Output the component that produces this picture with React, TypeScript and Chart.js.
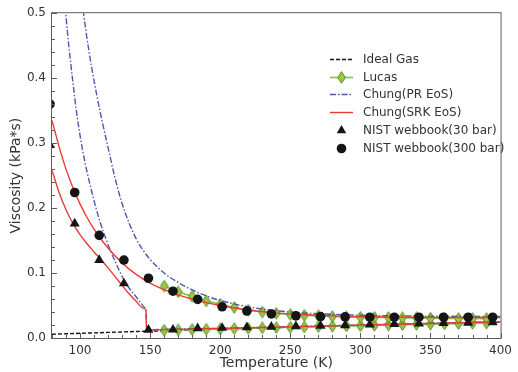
import React, { useEffect, useRef } from 'react';
import { Chart, registerables } from 'chart.js';

Chart.register(...registerables);

// ---- tick labels ----
const xTicks = [100, 150, 200, 250, 300, 350, 400];
const yTicks = [0, 0.1, 0.2, 0.3, 0.4, 0.5];

// ---- legend labels ----
const legendLabels = [
  'Ideal Gas',
  'Lucas',
  'Chung(PR EoS)',
  'Chung(SRK EoS)',
  'NIST webbook(30 bar)',
  'NIST webbook(300 bar)',
];

// ---- data ----
const idealT = [80, 100, 120, 140, 160, 200, 250, 300, 350, 400];
const idealV = [0.0058, 0.0072, 0.0086, 0.0100, 0.0112, 0.0137, 0.0166, 0.0194, 0.0220, 0.0245];

const lucasT = [160, 170, 180, 190, 200, 210, 220, 230, 240, 250, 260, 270, 280, 290, 300, 310, 320, 330, 340, 350, 360, 370, 380, 390];
const lucasHigh = [0.080, 0.071, 0.064, 0.057, 0.052, 0.047, 0.043, 0.040, 0.038, 0.036, 0.035, 0.034, 0.033, 0.0325, 0.032, 0.0318, 0.0315, 0.031, 0.031, 0.0305, 0.030, 0.030, 0.030, 0.0298];
const lucasLow = [0.0120, 0.0125, 0.0130, 0.0135, 0.0140, 0.0145, 0.0150, 0.0155, 0.0160, 0.0165, 0.0170, 0.0175, 0.0180, 0.0185, 0.0190, 0.0195, 0.0200, 0.0205, 0.0210, 0.0214, 0.0218, 0.0222, 0.0226, 0.0230];

const prLowT = [88, 89.8, 91.5, 93.1, 95, 97.3, 100, 103.2, 106.7, 111.4, 115, 120.7, 125, 131.2, 135, 139.4, 143, 146.5, 147, 147.5, 150, 200, 250, 300, 350, 400];
const prLow = [0.545, 0.50, 0.46, 0.428, 0.392, 0.351, 0.312, 0.274, 0.240, 0.200, 0.174, 0.140, 0.118, 0.090, 0.077, 0.065, 0.055, 0.046, 0.044, 0.0122, 0.0125, 0.015, 0.0174, 0.020, 0.0226, 0.0252];

const prHighT = [100.2, 102.5, 105, 108, 112, 116, 120, 125, 130, 135, 140, 145, 150, 160, 170, 180, 190, 200, 220, 240, 260, 280, 300, 350, 400];
const prHigh = [0.54, 0.50, 0.4606, 0.4201, 0.3731, 0.3315, 0.2930, 0.2460, 0.2070, 0.1770, 0.1530, 0.1350, 0.1210, 0.1000, 0.0855, 0.0740, 0.0648, 0.0578, 0.0480, 0.0420, 0.0385, 0.0364, 0.0351, 0.0336, 0.0331];

const srkHighT = [80, 85, 90, 95, 100, 105, 110, 115, 120, 130, 140, 150, 160, 170, 180, 190, 200, 220, 240, 260, 280, 300, 350, 400];
const srkHigh = [0.335, 0.295, 0.260, 0.231, 0.2065, 0.1855, 0.1675, 0.152, 0.1385, 0.1155, 0.098, 0.0845, 0.0745, 0.0665, 0.060, 0.0545, 0.050, 0.043, 0.0386, 0.0358, 0.034, 0.0328, 0.0318, 0.0316];

const srkLowT = [80, 85, 90, 95, 100, 105, 110, 115, 120, 125, 130, 135, 140, 145, 147, 147.5, 150, 200, 250, 300, 350, 400];
const srkLow = [0.258, 0.2245, 0.1975, 0.176, 0.159, 0.145, 0.1325, 0.1205, 0.108, 0.0945, 0.081, 0.068, 0.0565, 0.046, 0.042, 0.012, 0.0123, 0.0148, 0.0172, 0.0198, 0.0224, 0.0250];

const nistT = [78.6, 96.2, 113.7, 131.3, 148.8, 166.3, 183.9, 201.4, 219.0, 236.5, 254.0, 271.6, 289.1, 306.7, 324.2, 341.8, 359.3, 376.9, 394.4];
const nist30 = [0.297, 0.176, 0.120, 0.084, 0.0125, 0.0128, 0.0150, 0.0155, 0.0165, 0.0172, 0.0180, 0.0188, 0.0196, 0.0205, 0.0213, 0.0220, 0.0228, 0.0235, 0.0242];
const nist300 = [0.360, 0.224, 0.158, 0.120, 0.092, 0.072, 0.0595, 0.048, 0.0415, 0.037, 0.034, 0.033, 0.0325, 0.032, 0.032, 0.032, 0.032, 0.032, 0.032];

// ---- styles ----
const FONT = "'DejaVu Sans', 'Liberation Sans', sans-serif";
const TEXT = '#333333';
const SPINE = '#5c5c5c';
const BLACK = '#151515';
const GREEN_LINE = '#86c540';
const GREEN_FILL = '#9cc83c';
const GREEN_EDGE = '#4f8f2a';
const BLUE = '#4a58b0';
const RED = '#ee3a36';
const LW = 1.4;
const DASH_DOT = [6, 2, 1.5, 2];
const DASH = [4, 2];

const pts = (xs: number[], ys: number[]) => xs.map((x, i) => ({ x, y: ys[i] }));

function makeDiamond(): HTMLCanvasElement {
  const c = document.createElement('canvas');
  const w = 9, h = 13;
  c.width = w; c.height = h;
  const g = c.getContext('2d')!;
  g.beginPath();
  g.moveTo(w / 2, 0.7);
  g.lineTo(w - 0.7, h / 2);
  g.lineTo(w / 2, h - 0.7);
  g.lineTo(0.7, h / 2);
  g.closePath();
  g.fillStyle = GREEN_FILL;
  g.fill();
  g.lineWidth = 1;
  g.strokeStyle = GREEN_EDGE;
  g.stroke();
  return c;
}

export default function App() {
  const ref = useRef<HTMLCanvasElement | null>(null);

  useEffect(() => {
    if (!ref.current) return;
    const diamond = makeDiamond();

    const framePlugin = {
      id: 'framePlugin',
      afterDatasetsDraw(chart: any) {
        const { ctx, chartArea: a, scales } = chart;
        const xs = scales.x, ys = scales.y;
        ctx.save();
        ctx.strokeStyle = SPINE;
        ctx.lineWidth = 1;
        for (let v = 80; v <= 400; v += 10) {
          const major = v % 50 === 0;
          const px = Math.round(xs.getPixelForValue(v)) + 0.5;
          ctx.beginPath();
          ctx.moveTo(px, a.bottom);
          ctx.lineTo(px, a.bottom - (major ? 5 : 3));
          ctx.stroke();
        }
        for (let k = 0; k <= 25; k++) {
          const v = k * 0.02;
          const major = k % 5 === 0;
          const py = Math.round(ys.getPixelForValue(v)) + 0.5;
          ctx.beginPath();
          ctx.moveTo(a.left, py);
          ctx.lineTo(a.left + (major ? 5 : 3), py);
          ctx.stroke();
        }
        ctx.strokeRect(a.left - 0.5, a.top - 0.5, a.right - a.left + 1, a.bottom - a.top + 1);
        ctx.restore();
      },
      afterDraw(chart: any) {
        const { ctx } = chart;
        ctx.save();
        const x0 = 330, x1 = 353, xm = 341.5, xt = 363;
        const y0 = 59, dy = 17.7;
        ctx.font = `12px ${FONT}`;
        ctx.fillStyle = TEXT;
        ctx.textBaseline = 'middle';
        ctx.textAlign = 'left';
        legendLabels.forEach((lab, i) => {
          const y = Math.round(y0 + i * dy) + 0.5;
          ctx.save();
          if (i === 0) {
            ctx.strokeStyle = BLACK; ctx.lineWidth = LW; ctx.setLineDash(DASH);
            ctx.beginPath(); ctx.moveTo(x0, y); ctx.lineTo(x1, y); ctx.stroke();
          } else if (i === 1) {
            ctx.strokeStyle = GREEN_LINE; ctx.lineWidth = 1.6;
            ctx.beginPath(); ctx.moveTo(x0, y); ctx.lineTo(x1, y); ctx.stroke();
            ctx.drawImage(diamond, xm - diamond.width / 2, y - diamond.height / 2);
          } else if (i === 2) {
            ctx.strokeStyle = BLUE; ctx.lineWidth = LW; ctx.setLineDash(DASH_DOT);
            ctx.beginPath(); ctx.moveTo(x0, y); ctx.lineTo(x1, y); ctx.stroke();
          } else if (i === 3) {
            ctx.strokeStyle = RED; ctx.lineWidth = LW;
            ctx.beginPath(); ctx.moveTo(x0, y); ctx.lineTo(x1, y); ctx.stroke();
          } else if (i === 4) {
            const r = 5.5;
            ctx.fillStyle = BLACK;
            ctx.beginPath();
            ctx.moveTo(xm, y - r);
            ctx.lineTo(xm + r * Math.sin(2 * Math.PI / 3), y - r * Math.cos(2 * Math.PI / 3));
            ctx.lineTo(xm + r * Math.sin(4 * Math.PI / 3), y - r * Math.cos(4 * Math.PI / 3));
            ctx.closePath(); ctx.fill();
          } else {
            ctx.fillStyle = BLACK;
            ctx.beginPath(); ctx.arc(xm, y, 4.8, 0, Math.PI * 2); ctx.fill();
          }
          ctx.restore();
          ctx.fillText(lab, xt, y);
        });
        ctx.restore();
      },
    };

    const lineDs = (label: string, data: any[], color: string, dash: number[], order: number) => ({
      label,
      data,
      borderColor: color,
      backgroundColor: color,
      borderWidth: LW,
      borderDash: dash,
      pointRadius: 0,
      pointHoverRadius: 0,
      cubicInterpolationMode: 'monotone' as const,
      clip: 0,
      order,
    });

    const chart = new Chart(ref.current, {
      type: 'line',
      data: {
        datasets: [
          {
            label: legendLabels[5],
            data: pts(nistT, nist300),
            showLine: false,
            pointStyle: 'circle',
            pointRadius: 4.8,
            pointBackgroundColor: BLACK,
            pointBorderColor: BLACK,
            pointBorderWidth: 0,
            clip: 0,
            order: 0,
          } as any,
          {
            label: legendLabels[4],
            data: pts(nistT, nist30),
            showLine: false,
            pointStyle: 'triangle',
            pointRadius: 5.8,
            pointBackgroundColor: BLACK,
            pointBorderColor: BLACK,
            pointBorderWidth: 0,
            clip: 0,
            order: 1,
          } as any,
          lineDs(legendLabels[3], pts(srkHighT, srkHigh), RED, [], 2),
          lineDs(legendLabels[3], pts(srkLowT, srkLow), RED, [], 3),
          lineDs(legendLabels[2], pts(prHighT, prHigh), BLUE, DASH_DOT, 4),
          lineDs(legendLabels[2], pts(prLowT, prLow), BLUE, DASH_DOT, 5),
          {
            label: legendLabels[1],
            data: pts(lucasT, lucasHigh),
            borderColor: GREEN_LINE,
            borderWidth: 1.6,
            pointStyle: diamond,
            pointRadius: 5,
            clip: 0,
            order: 6,
          } as any,
          {
            label: legendLabels[1],
            data: pts(lucasT, lucasLow),
            borderColor: GREEN_LINE,
            borderWidth: 1.6,
            pointStyle: diamond,
            pointRadius: 5,
            clip: 0,
            order: 7,
          } as any,
          lineDs(legendLabels[0], pts(idealT, idealV), BLACK, DASH, 8),
        ],
      },
      options: {
        responsive: false,
        animation: false,
        events: [],
        layout: { padding: { top: 13, right: 10, left: 0, bottom: 0 } },
        plugins: {
          legend: { display: false },
          tooltip: { enabled: false },
        },
        scales: {
          x: {
            type: 'linear',
            min: 80,
            max: 400,
            grid: { display: false, drawTicks: false },
            border: { display: false },
            afterBuildTicks: (s: any) => { s.ticks = xTicks.map((v) => ({ value: v })); },
            afterFit: (s: any) => { s.height = 34; },
            ticks: {
              color: TEXT,
              font: { family: FONT, size: 12 },
              padding: 6,
              maxRotation: 0,
              callback: (v: any) => String(v),
            },
            title: {
              display: true,
              text: 'Temperature (K)',
              color: TEXT,
              font: { family: FONT, size: 14 },
              padding: { top: 0, bottom: 0 },
            },
          },
          y: {
            type: 'linear',
            min: 0,
            max: 0.5,
            grid: { display: false, drawTicks: false },
            border: { display: false },
            afterBuildTicks: (s: any) => { s.ticks = yTicks.map((v) => ({ value: v })); },
            afterFit: (s: any) => { s.width = 52; },
            ticks: {
              color: TEXT,
              font: { family: FONT, size: 12 },
              padding: 6,
              callback: (v: any) => Number(v).toFixed(1),
            },
            title: {
              display: true,
              text: 'Viscosity (kPa*s)',
              color: TEXT,
              font: { family: FONT, size: 14 },
              padding: { top: 8, bottom: 0 },
            },
          },
        },
      } as any,
      plugins: [framePlugin],
    });

    return () => chart.destroy();
  }, []);

  return (
    <div style={{ position: 'fixed', left: 0, top: 0, width: 518, height: 372, background: '#fff' }}>
      <canvas ref={ref} width={518} height={372} style={{ display: 'block' }} />
    </div>
  );
}
